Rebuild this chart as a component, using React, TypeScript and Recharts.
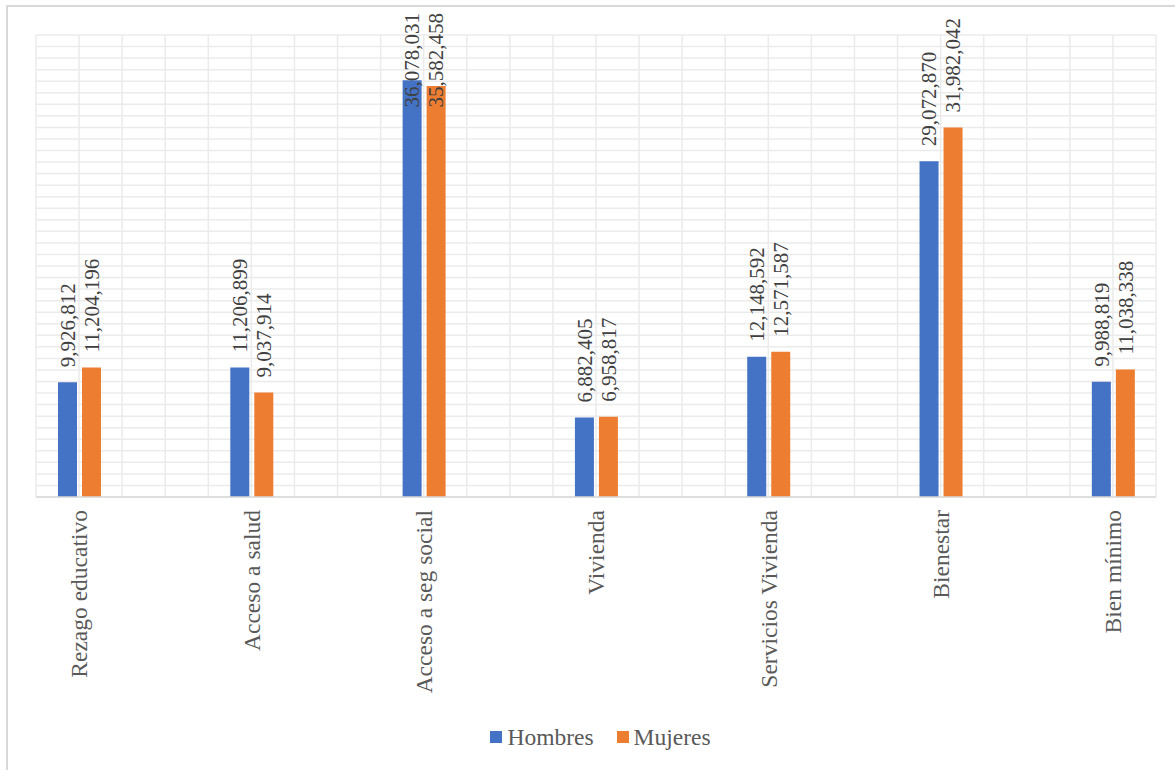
import { Bar, BarChart, CartesianGrid, LabelList, Legend, XAxis, YAxis } from "recharts";

const categories = [
  "Rezago educativo",
  "Acceso a salud",
  "Acceso a seg social",
  "Vivienda",
  "Servicios Vivienda",
  "Bienestar",
  "Bien mínimo",
];
const hombres = [9926812, 11206899, 36078031, 6882405, 12148592, 29072870, 9988819];
const mujeres = [11204196, 9037914, 35582458, 6958817, 12571587, 31982042, 11038338];
const seriesNames = ["Hombres", "Mujeres"];
const seriesColors = ["#4472C4", "#ED7D31"];

const Y_MAX = 40_000_000;
const Y_STEP = 1_000_000;

const SERIF = "Liberation Serif, Tinos, Times New Roman, DejaVu Serif, serif";
const LABEL_FONT = 21;
const AXIS_FONT = 23.5;
const LABEL_TOP = 13;

type Row = { name: string; hombres: number | null; mujeres: number | null };

// each category is followed by an empty slot, like the source sheet
const rows: Row[] = categories.flatMap((name, i) => {
  const row: Row = { name, hombres: hombres[i], mujeres: mujeres[i] };
  return i === 0 ? [row] : [{ name: "", hombres: null, mujeres: null }, row];
});

const fmt = (v: number) => v.toLocaleString("en-US");

function textLength(text: string) {
  let em = 0;
  for (const ch of text) em += ch === "," ? 0.25 : 0.5;
  return em * LABEL_FONT;
}

function ValueLabel(props: any) {
  const { x, y, width, value } = props;
  if (value == null) return null;
  const text = fmt(Number(value));
  const cx = Number(x) + Number(width) / 2;
  // keep tall labels inside the chart area
  const base = Math.max(Number(y) - 15, LABEL_TOP + textLength(text));
  return (
    <text
      x={cx}
      y={base}
      dy="0.35em"
      transform={`rotate(-90 ${cx} ${base})`}
      textAnchor="start"
      style={{ fontFamily: SERIF, fontSize: LABEL_FONT }}
      fill="#404040"
    >
      {text}
    </text>
  );
}

function CategoryTick(props: any) {
  const { x, y, payload } = props;
  if (!payload?.value) return null;
  return (
    <text
      x={x}
      y={y}
      dy="0.35em"
      transform={`rotate(-90 ${x} ${y})`}
      textAnchor="end"
      style={{ fontFamily: SERIF, fontSize: AXIS_FONT }}
      fill="#595959"
    >
      {payload.value}
    </text>
  );
}

function LegendContent() {
  return (
    <div
      style={{
        display: "flex",
        justifyContent: "center",
        alignItems: "center",
        fontFamily: SERIF,
        fontSize: AXIS_FONT,
        color: "#595959",
        lineHeight: "26px",
      }}
    >
      {seriesNames.map((name, i) => (
        <span key={name} style={{ display: "flex", alignItems: "center", marginLeft: i ? 23 : 0 }}>
          <span
            style={{ width: 12, height: 12, background: seriesColors[i], marginRight: 5, display: "inline-block" }}
          />
          {name}
        </span>
      ))}
    </div>
  );
}

export default function App() {
  return (
    <div
      style={{
        position: "absolute",
        left: 0,
        top: 0,
        width: 1175,
        height: 770,
        overflow: "hidden",
        background: "#fff",
      }}
    >
      <div
        style={{
          position: "absolute",
          left: 6,
          top: 5,
          width: 1200,
          height: 800,
          border: "2px solid #d9d9d9",
        }}
      />
      <div style={{ position: "absolute", left: 0, top: 0 }}>
        <BarChart
          width={1175}
          height={770}
          data={rows}
          margin={{ top: 35, left: 36, right: 19, bottom: 0 }}
          barSize={19}
          barGap={5}
        >
          <CartesianGrid
            stroke="#ebebeb"
            strokeWidth={1.5}
            horizontalCoordinatesGenerator={({ offset }: any) =>
              Array.from({ length: Y_MAX / Y_STEP + 1 }, (_, i) => offset.top + (i * offset.height * Y_STEP) / Y_MAX)
            }
            verticalCoordinatesGenerator={({ offset }: any) =>
              Array.from({ length: rows.length * 2 + 1 }, (_, i) => offset.left + (i * offset.width) / (rows.length * 2))
            }
          />
          <XAxis
            dataKey="name"
            interval={0}
            height={273}
            tickSize={0}
            tickMargin={13}
            tick={<CategoryTick />}
            axisLine={{ stroke: "#d9d9d9", strokeWidth: 1.5 }}
          />
          <YAxis hide domain={[0, Y_MAX]} />
          <Legend
            verticalAlign="middle"
            align="center"
            content={<LegendContent />}
            wrapperStyle={{ top: 724, left: 13, width: 1175 }}
          />
          <Bar dataKey="hombres" name={seriesNames[0]} fill={seriesColors[0]} isAnimationActive={false}>
            <LabelList dataKey="hombres" content={<ValueLabel />} />
          </Bar>
          <Bar dataKey="mujeres" name={seriesNames[1]} fill={seriesColors[1]} isAnimationActive={false}>
            <LabelList dataKey="mujeres" content={<ValueLabel />} />
          </Bar>
        </BarChart>
      </div>
    </div>
  );
}
